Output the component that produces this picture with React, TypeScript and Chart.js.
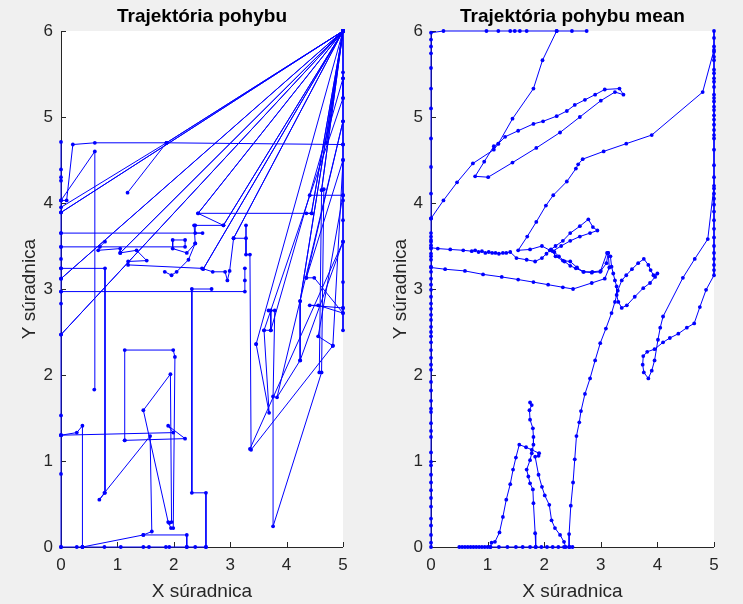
import React, { useEffect, useRef } from "react";
import { Chart, registerables } from "chart.js";

Chart.register(...registerables);

const FONT = '"Liberation Sans", Arial, Helvetica, sans-serif';
const BLUE = "#0000ff";
const AXIS = "#262626";

const xTicks = [0, 1, 2, 3, 4, 5];
const yTicks = [0, 1, 2, 3, 4, 5, 6];
const leftTitle = "Trajektória pohybu";
const rightTitle = "Trajektória pohybu mean";
const xLabel = "X súradnica";
const yLabel = "Y súradnica";

// ---- left panel trajectories (flat x,y pairs) ----
const leftColumn = [0,0, 0,0.85, 0,1.3, 0,1.53, 0,2.47, 0,2.83, 0,2.97, 0,3.12, 0,3.24, 0,3.35, 0,3.49, 0,3.65, 0,3.89, 0,4.03, 0,4.26, 0,4.3, 0,4.39, 0,4.71];
const leftTop = [0.59,1.83, 0.6,4.6, 0,4.03, 0.1,4.03, 0.21,4.68, 0.6,4.7, 1.87,4.7, 5,4.68];
const leftSpur = [1.18,4.12, 1.87,4.7, 0,3.95];
const leftFan = [5,6, 1.87,4.7, 5,6, 0,3.89, 5,6, 0,3.12, 5,6, 0,2.47, 5,6, 1.05,3.42, 5,6, 2.43,3.88, 5,6, 2.88,3.74, 5,6, 2.52,3.23, 5,6, 3.06,3.59, 5,6, 4.24,2.86, 5,6, 4.44,3.88, 5,6, 4.62,4.15, 5,6, 4.71,4.7, 5,6, 3.46,2.36];
const leftEdge = [5,6, 5,5.52, 5,5.45, 5,5.22, 5,4.95, 5,4.68, 5,4.5, 5,4.09, 5,4.03, 5,3.8, 5,3.55, 5,3.08, 5,2.78, 5,2.72, 5,2.52];
const leftUpperRows = [0,3.65, 2.51,3.65, 2.38,3.65, 2.38,3.74, 2.88,3.74, 2.43,3.88, 4.45,3.88, 4.35,3.88];
const leftMidRows = [0,3.49, 2.2,3.49, 2.2,3.57, 1.98,3.57, 1.98,3.47, 2.23,3.42, 2.38,3.53, 2.36,3.74];
const leftSteps = [0.78,3.55, 0.69,3.49, 0.66,3.45, 1.05,3.47, 1.05,3.42, 1.34,3.45, 1.52,3.33, 1.19,3.32, 1.19,3.28, 2.5,3.24, 2.69,3.2, 2.91,3.2, 2.95,3.1, 2.99,3.21, 3.06,3.59, 3.28,3.59, 3.28,3.74, 3.28,3.4, 3.35,3.4, 3.37,1.13, 4.82,2.34];
const leftLowRows = [1.84,3.2, 1.96,3.16, 2.05,3.2, 2.26,3.34, 2.38,3.53];
const leftBox = [0,2.97, 3.26,2.97, 3.26,3.1, 3.26,3.24];
const leftStair = [2.67,3.0, 2.32,3.0, 2.32,0.63, 2.57,0.63, 2.57,0];
const leftFloor = [0.38,0, 1.46,0.14, 2.23,0.14, 2.23,0];
const leftPost = [0.38,0, 0.38,1.41, 0.28,1.33, 0,1.3];
const leftHook = [0,3.24, 0.78,3.24, 0.78,0.63, 0.68,0.55, 0.77,0.63, 1.58,1.29, 1.61,0.18, 1.46,0.14];
const leftBottom = [0,0, 0.28,0, 0.38,0, 0.77,0, 1.06,0, 1.46,0, 1.56,0, 1.86,0, 1.92,0, 2.23,0, 2.38,0, 2.57,0];
const leftRect = [1.13,1.24, 1.13,2.29, 1.99,2.29, 2.02,2.21, 1.99,0.22, 1.95,0.22, 1.9,0.29, 1.46,1.59, 1.94,2.01, 1.96,0.29, 1.92,0.28];
const leftRail = [0,1.3, 1.99,1.33, 1.9,1.41, 2.2,1.26, 1.13,1.24];
const leftRightA = [4.35,3.13, 4.49,3.13, 5,2.72, 4.56,2.81, 4.41,2.81, 5,2.78];
const leftRightB = [4.24,2.86, 4.24,2.17, 5,3.55, 3.35,1.14];
const leftPillars = [4.58,2.03, 4.62,4.15, 4.66,4.16, 4.62,2.03, 3.76,0.24, 3.76,1.75, 3.79,2.75, 3.68,2.75, 3.72,2.75, 3.72,2.52, 3.6,2.52, 3.69,1.56, 3.46,2.36];
const leftCross = [4.41,4.09, 5,4.09, 4.56,2.45, 4.82,2.34, 5,4.5, 4.35,3.13, 5,4.95, 3.83,1.74, 4.24,2.17];
const leftCross2 = [3.72,2.52, 5,5.45, 5,5.22, 3.6,2.52];

// ---- right panel trajectories (flat x,y pairs) ----
const rightColumn = [0,0, 0,0.05, 0,0.14, 0,0.25, 0,0.33, 0,0.47, 0,0.57, 0,0.66, 0,0.75, 0,0.84, 0,0.95, 0,0.99, 0,1.1, 0,1.28, 0,1.35, 0,1.44, 0,1.57, 0,1.61, 0,1.7, 0,1.82, 0,1.92, 0,2.06, 0,2.12, 0,2.2, 0,2.29, 0,2.38, 0,2.45, 0,2.5, 0,2.56, 0,2.64, 0,2.7, 0,2.77, 0,2.83, 0,2.91, 0,2.99, 0,3.05, 0,3.12, 0,3.2, 0,3.26, 0,3.34, 0,3.38, 0,3.41, 0,3.47, 0,3.51, 0,3.55, 0,3.57, 0,3.61, 0,3.65, 0,3.82, 0,4.11, 0,4.42, 0,4.75, 0,5.1, 0,5.33, 0,5.57, 0,5.74, 0,5.82, 0,5.9, 0,5.98, 0.22,6, 0.98,6, 1.19,6, 1.4,6, 1.48,6, 1.57,6, 1.69,6, 2.22,6, 2.49,6, 2.75,6];
const rightSweep = [2.22,6, 1.97,5.66, 1.81,5.33, 1.44,4.98, 1.19,4.69, 1.11,4.66, 0.94,4.48, 0.78,4.31, 1.01,4.3, 1.44,4.47, 1.86,4.64, 2.28,4.82, 2.63,5.0, 3.0,5.19, 3.25,5.29, 3.4,5.26, 3.33,5.33, 3.07,5.32, 2.9,5.26, 2.72,5.2, 2.54,5.14, 2.4,5.07, 2.22,5.01, 1.98,4.95, 1.81,4.92, 1.54,4.84, 1.31,4.77, 1.19,4.69, 1.11,4.62, 0.74,4.46, 0.46,4.24, 0.22,4.03, 0,3.82];
const rightEdge = [5,6, 5,5.92, 5,5.82, 5,5.76, 5,5.7, 5,5.66, 5,5.55, 5,5.51, 5,5.45, 5,5.41, 5,5.35, 5,5.26, 5,5.22, 5,5.18, 5,5.12, 5,5.08, 5,5.02, 5,4.97, 5,4.91, 5,4.85, 5,4.79, 5,4.75, 5,4.62, 5,4.44, 5,4.3, 5,4.17, 5,4.11, 5,4.05, 5,3.98, 5,3.9, 5,3.8, 5,3.7, 5,3.6, 5,3.5, 5,3.42, 5,3.35, 5,3.28, 5,3.22, 5,3.16, 4.86,2.99, 4.75,2.79, 4.65,2.6, 4.52,2.55, 4.37,2.48, 4.22,2.43, 4.1,2.38, 3.95,2.3, 3.82,2.27, 3.75,2.22, 3.74,2.12, 3.76,2.03, 3.84,1.96, 3.9,2.05, 3.95,2.17, 4.01,2.41, 4.05,2.55, 4.1,2.68, 4.45,3.13, 4.66,3.35, 4.89,3.58, 5,4.2];
const rightCurve = [5,5.78, 4.8,5.29, 3.9,4.79, 3.45,4.69, 3.05,4.6, 2.68,4.51, 2.6,4.45, 2.56,4.4, 2.4,4.25, 2.16,4.09, 2.03,3.97, 1.86,3.78, 1.7,3.61, 1.54,3.45, 1.75,3.46, 1.96,3.5, 2.1,3.45, 2.2,3.5, 2.33,3.56, 2.46,3.65, 2.63,3.73, 2.78,3.81, 2.86,3.72, 2.94,3.68, 2.81,3.65, 2.63,3.61, 2.46,3.56, 2.3,3.5, 2.15,3.44, 2.2,3.38, 2.33,3.33, 2.46,3.32, 2.58,3.25, 2.69,3.2, 2.84,3.19, 2.99,3.2, 3.11,3.42, 3.17,3.38, 3.19,3.26, 3.22,3.18, 3.25,3.1, 3.28,3.03, 3.28,2.93, 3.31,2.85, 3.37,2.78, 3.46,2.81, 3.6,2.91, 3.75,3.01, 3.87,3.07, 3.96,3.14, 4.0,3.18, 3.93,3.16, 3.88,3.22, 3.84,3.28, 3.76,3.35, 3.66,3.3, 3.55,3.23, 3.45,3.16, 3.37,3.1, 3.3,2.98, 3.25,2.85, 3.19,2.72, 3.09,2.54, 2.99,2.37, 2.9,2.17, 2.81,1.96, 2.72,1.78, 2.65,1.58, 2.62,1.45, 2.57,1.29, 2.54,1.02, 2.51,0.75, 2.47,0.48, 2.44,0.15, 2.44,0];
const rightRowHigh = [0,3.48, 0.12,3.47, 0.34,3.46, 0.57,3.45, 0.72,3.44, 0.78,3.45, 0.84,3.43, 0.9,3.44, 0.96,3.42, 1.02,3.43, 1.08,3.42, 1.14,3.42, 1.2,3.41, 1.27,3.42, 1.33,3.42, 1.4,3.43, 1.51,3.36, 1.69,3.34, 1.84,3.32, 1.96,3.36, 2.04,3.41, 2.12,3.46, 2.18,3.43, 2.26,3.38, 2.36,3.32, 2.46,3.27, 2.56,3.24, 2.7,3.2, 2.85,3.2, 3.0,3.21, 3.1,3.3, 3.13,3.42];
const rightRowLow = [0,3.25, 0.25,3.23, 0.6,3.21, 0.92,3.17, 1.25,3.14, 1.54,3.11, 1.81,3.08, 2.07,3.05, 2.33,3.02, 2.51,3.0, 2.84,3.07, 3.07,3.12, 3.15,3.25, 3.13,3.42];
const rightBottom = [0.5,0, 0.55,0, 0.6,0, 0.65,0, 0.7,0, 0.75,0, 0.8,0, 0.85,0, 0.9,0, 0.95,0, 1.0,0, 1.05,0, 1.07,0.05, 1.13,0.06, 1.21,0.17, 1.27,0.35, 1.33,0.55, 1.4,0.73, 1.45,0.9, 1.5,1.04, 1.56,1.19, 1.68,1.16, 1.78,1.13, 1.91,1.09, 1.9,1.06, 1.84,1.05, 1.9,0.84, 1.96,0.7, 2.01,0.6, 2.09,0.49, 2.13,0.31, 2.19,0.22, 2.28,0.14, 2.35,0.06, 2.38,0];
const rightFloor = [1.05,0, 1.2,0, 1.35,0, 1.5,0, 1.62,0, 1.75,0, 1.85,0, 1.95,0, 2.05,0, 2.15,0, 2.25,0, 2.35,0, 2.45,0, 2.5,0];
const rightSpike = [1.75,1.68, 1.78,1.65, 1.74,1.59, 1.75,1.48, 1.8,1.38, 1.81,1.28, 1.81,1.19, 1.78,1.09, 1.75,1.01, 1.69,0.9, 1.72,0.82, 1.75,0.74, 1.8,0.67, 1.81,0.51, 1.84,0.16, 1.85,0];

const leftTracks = [leftColumn, leftTop, leftSpur, leftFan, leftEdge, leftUpperRows, leftMidRows, leftSteps, leftLowRows, leftBox, leftStair, leftFloor, leftPost, leftHook, leftBottom, leftRect, leftRail, leftRightA, leftRightB, leftPillars, leftCross, leftCross2];
const rightTracks = [rightColumn, rightSweep, rightEdge, rightCurve, rightRowHigh, rightRowLow, rightBottom, rightFloor, rightSpike];

function toPoints(flat: number[]) {
  const pts: { x: number; y: number }[] = [];
  for (let i = 0; i < flat.length; i += 2) pts.push({ x: flat[i], y: flat[i + 1] });
  return pts;
}

const panelPlugin = {
  id: "panelAxes",
  beforeDraw(chart: any) {
    const { ctx, chartArea: a } = chart;
    ctx.save();
    ctx.fillStyle = "#ffffff";
    ctx.fillRect(a.left, a.top, a.right - a.left, a.bottom - a.top);
    ctx.restore();
  },
  beforeDatasetsDraw(chart: any) {
    const { ctx, chartArea: a, scales } = chart;
    ctx.save();
    ctx.strokeStyle = AXIS;
    ctx.lineWidth = 1;
    ctx.beginPath();
    ctx.moveTo(a.left + 0.5, a.top);
    ctx.lineTo(a.left + 0.5, a.bottom + 0.5);
    ctx.lineTo(a.right, a.bottom + 0.5);
    for (const v of xTicks) {
      const px = Math.round(scales.x.getPixelForValue(v)) + 0.5;
      ctx.moveTo(px, a.bottom);
      ctx.lineTo(px, a.bottom - 5);
    }
    for (const v of yTicks) {
      const py = Math.round(scales.y.getPixelForValue(v)) + 0.5;
      ctx.moveTo(a.left, py);
      ctx.lineTo(a.left + 5, py);
    }
    ctx.stroke();
    ctx.restore();
  },
};

function Panel(props: { title: string; tracks: number[][]; left: number; width: number; yWidth: number; rightPad: number }) {
  const ref = useRef<HTMLCanvasElement | null>(null);
  useEffect(() => {
    if (!ref.current) return;
    const chart = new Chart(ref.current, {
      type: "scatter",
      data: {
        datasets: props.tracks.map((t) => ({
          data: toPoints(t),
          showLine: true,
          borderColor: BLUE,
          backgroundColor: BLUE,
          pointBackgroundColor: BLUE,
          pointBorderWidth: 0,
          pointRadius: 1.9,
          pointHoverRadius: 0,
          borderWidth: 1,
          tension: 0,
          clip: 6,
        })),
      },
      options: {
        animation: false,
        responsive: false,
        maintainAspectRatio: false,
        events: [],
        layout: { padding: { left: 0, right: props.rightPad, top: 0, bottom: 0 } },
        plugins: {
          legend: { display: false },
          tooltip: { enabled: false },
          title: {
            display: true,
            text: props.title,
            fullSize: false,
            color: "#000000",
            font: { family: FONT, size: 19, weight: "bold" },
            padding: { top: 5, bottom: 3.2 },
          },
        },
        scales: {
          x: {
            type: "linear",
            min: 0,
            max: 5,
            afterBuildTicks: (s: any) => {
              s.ticks = xTicks.map((v) => ({ value: v }));
            },
            afterFit: (s: any) => {
              s.height = 57;
            },
            grid: { display: false, drawTicks: false },
            border: { display: false },
            ticks: {
              color: AXIS,
              font: { family: FONT, size: 17 },
              padding: 8,
              maxRotation: 0,
              autoSkip: false,
              callback: (v: any) => String(v),
            },
            title: {
              display: true,
              text: xLabel,
              color: AXIS,
              font: { family: FONT, size: 19 },
              padding: { top: 0, bottom: 1 },
            },
          },
          y: {
            type: "linear",
            min: 0,
            max: 6,
            afterBuildTicks: (s: any) => {
              s.ticks = yTicks.map((v) => ({ value: v }));
            },
            afterFit: (s: any) => {
              s.width = props.yWidth;
            },
            grid: { display: false, drawTicks: false },
            border: { display: false },
            ticks: {
              color: AXIS,
              font: { family: FONT, size: 17 },
              padding: 8,
              autoSkip: false,
              callback: (v: any) => String(v),
            },
            title: {
              display: true,
              text: yLabel,
              color: AXIS,
              font: { family: FONT, size: 19 },
              padding: { top: 18, bottom: 0 },
            },
          },
        },
      } as any,
      plugins: [panelPlugin],
    });
    return () => chart.destroy();
  }, []);
  return (
    <div style={{ position: "absolute", left: props.left, top: 0, width: props.width, height: 604 }}>
      <canvas ref={ref} width={props.width} height={604} style={{ width: props.width, height: 604, display: "block" }} />
    </div>
  );
}

export default function App() {
  return (
    <div style={{ position: "absolute", left: 0, top: 0, width: 743, height: 604, background: "#f0f0f0", overflow: "hidden" }}>
      <Panel title={leftTitle} tracks={leftTracks} left={0} width={371} yWidth={61} rightPad={28} />
      <Panel title={rightTitle} tracks={rightTracks} left={371} width={372} yWidth={60} rightPad={29} />
    </div>
  );
}
